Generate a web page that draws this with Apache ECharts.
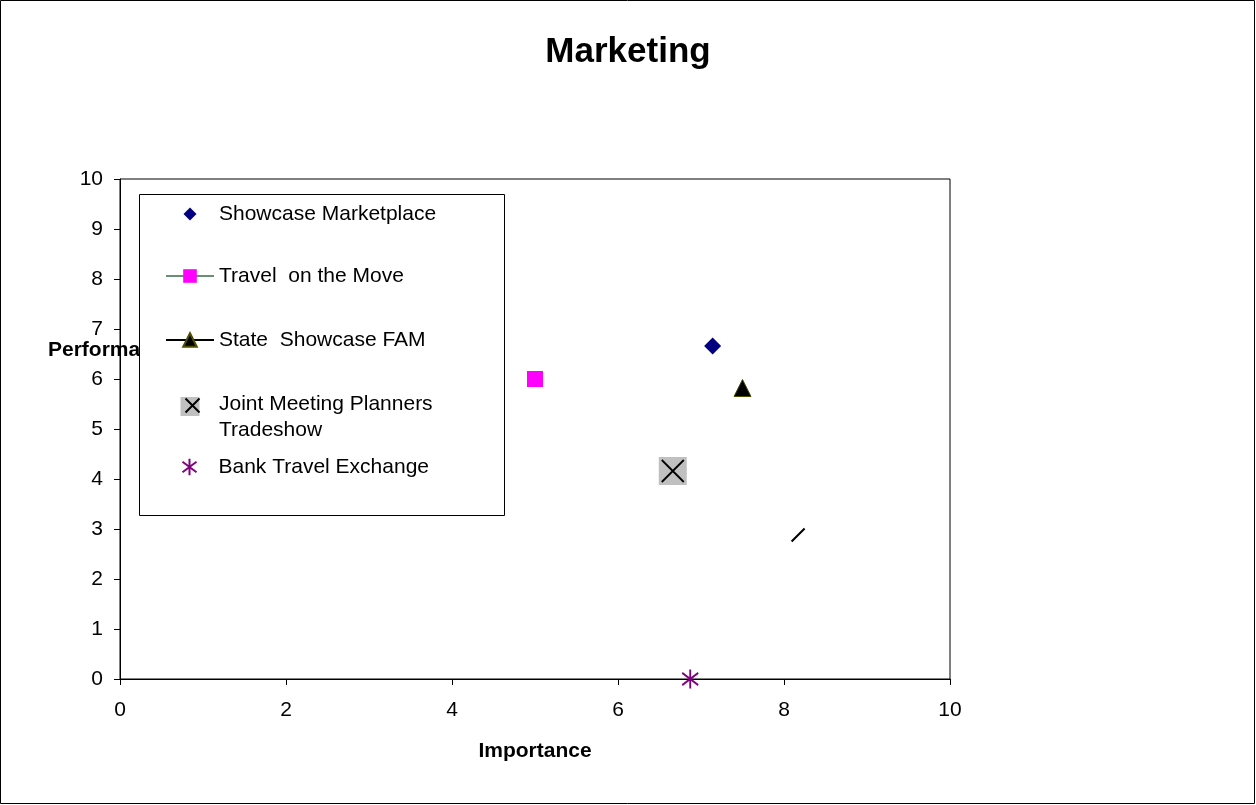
<!DOCTYPE html>
<html>
<head>
<meta charset="utf-8">
<script src="https://cdn.jsdelivr.net/npm/echarts@6/dist/echarts.min.js"></script>
<style>
html,body{margin:0;padding:0;background:#fff;}
#chart{width:1256px;height:805px;}
</style>
</head>
<body>
<div id="chart"></div>
<script>
// ---- data ----
var titleText = 'Marketing';
var xAxisName = 'Importance';
var yAxisName = 'Performance';
var seriesNames = ['Showcase Marketplace', 'Travel  on the Move', 'State  Showcase FAM', 'Joint Meeting Planners\nTradeshow', 'Bank Travel Exchange'];
var showcaseMarketplace = [[7.14, 6.66]];
var travelOnTheMove = [[5.0, 6.0]];
var stateShowcaseFAM = [[7.5, 5.82]];
var jointMeetingPlanners = [[6.66, 4.16]];
var bankTravelExchange = [[6.87, 0]];
var unlabeledPoint = [[8.17, 2.88]];
var xTicks = [0, 2, 4, 6, 8, 10];
var yTicks = [0, 1, 2, 3, 4, 5, 6, 7, 8, 9, 10];

var FONT = '"Liberation Sans", Arial, sans-serif';
var FS = 21;
var starPath = 'path://M5,0L5,10M0.7,1.8L9.3,8.2M9.3,1.8L0.7,8.2';
var xPath = 'path://M0,0L10,10M10,0L0,10';
var slashPath = 'path://M0,10L10,0';

var chart = echarts.init(document.getElementById('chart'), null, {renderer: 'canvas'});

// legend helper: icon centred at x=190, text starting at x=219
function legendBox(name, top, iw, ih, dx, extra) {
  var left = 190 - iw / 2 + dx;
  var padLeft = 219 - (190 - iw / 2 + iw + 5);
  var l = {
    data: [name],
    left: left, top: top, padding: 0,
    itemWidth: iw, itemHeight: ih,
    selectedMode: false,
    z: 10,
    textStyle: {color: '#000', fontSize: FS, fontFamily: FONT, lineHeight: 24, padding: [0, 0, 0, padLeft]}
  };
  if (extra) { Object.assign(l, extra); }
  return l;
}

var option = {
  backgroundColor: '#fff',
  animation: false,
  title: {
    text: titleText, left: 'center', top: 30,
    textStyle: {fontSize: 35, fontWeight: 'bold', fontFamily: FONT, color: '#000'}
  },
  grid: {left: 120, right: 306, top: 179, bottom: 126, show: true, borderColor: '#000', borderWidth: 1, backgroundColor: 'transparent'},
  xAxis: {
    type: 'value', min: xTicks[0], max: xTicks[xTicks.length - 1], interval: 2,
    name: xAxisName, nameLocation: 'middle', nameGap: 62,
    nameTextStyle: {fontSize: FS, fontWeight: 'bold', fontFamily: FONT, color: '#000'},
    axisLine: {lineStyle: {color: '#000', width: 1}},
    axisTick: {show: true, inside: false, length: 6, lineStyle: {color: '#000'}},
    axisLabel: {fontSize: FS, fontFamily: FONT, color: '#000', margin: 21},
    splitLine: {show: false}
  },
  yAxis: {
    type: 'value', min: yTicks[0], max: yTicks[yTicks.length - 1], interval: 1,
    axisLine: {show: true, lineStyle: {color: '#000', width: 1}},
    axisTick: {show: true, inside: false, length: 6, lineStyle: {color: '#000'}},
    axisLabel: {fontSize: FS, fontFamily: FONT, color: '#000', margin: 17},
    splitLine: {show: false}
  },
  legend: [
    legendBox(seriesNames[0], 202, 13, 13, 0),
    legendBox(seriesNames[1], 264, 48, 17, -1),
    legendBox(seriesNames[2], 328, 48, 17, -1),
    legendBox(seriesNames[3], 394, 19, 19, 0, {
      formatter: function () { return '{a|Joint Meeting Planners}\n{b|Tradeshow}'; },
      textStyle: {color: '#000', fontSize: FS, fontFamily: FONT, padding: [0, 0, 0, 219 - (190 - 9.5 + 19 + 5)],
        rich: {a: {fontSize: FS, fontFamily: FONT, color: '#000', lineHeight: 48},
               b: {fontSize: FS, fontFamily: FONT, color: '#000', lineHeight: 4}}}
    }),
    {
      data: ['jointMark'], left: 183, top: 396, padding: 0,
      itemWidth: 14, itemHeight: 14, selectedMode: false, z: 11,
      formatter: function () { return ' '; },
      textStyle: {fontSize: 1, lineHeight: 1, color: 'transparent'}
    },
    legendBox(seriesNames[4], 455, 14, 17, -3)
  ],
  graphic: [
    {type: 'rect', x: 0, y: 0, z: 0, silent: true,
     shape: {x: 0.5, y: 0.5, width: 1254, height: 803},
     style: {fill: 'none', stroke: '#000', lineWidth: 1}},
    {type: 'text', left: 48, top: 340, z: 1,
     style: {text: yAxisName, font: 'bold ' + FS + 'px ' + FONT, fill: '#000'}},
    {type: 'rect', x: 0, y: 0, z: 2,
     shape: {x: 139.5, y: 194.5, width: 365, height: 321},
     style: {fill: '#fff', stroke: '#000', lineWidth: 1}}
  ],
  series: [
    {name: seriesNames[0], type: 'scatter', data: showcaseMarketplace,
     symbol: 'diamond', symbolSize: 17, itemStyle: {color: '#000080', opacity: 1}},
    {name: seriesNames[1], type: 'line', data: travelOnTheMove,
     symbol: 'rect', symbolSize: 16, showSymbol: true,
     itemStyle: {color: '#ff00ff'}, lineStyle: {color: '#6b8f74', width: 1.5}},
    {name: seriesNames[2], type: 'line', data: stateShowcaseFAM,
     symbol: 'triangle', symbolSize: 17, showSymbol: true,
     itemStyle: {color: '#000', borderColor: '#4d4d00', borderWidth: 1}, lineStyle: {color: '#000', width: 1.5}},
    {name: seriesNames[3], type: 'scatter', data: jointMeetingPlanners,
     symbol: 'rect', symbolSize: 28, itemStyle: {color: '#c0c0c0', opacity: 1}},
    {name: 'jointMark', type: 'scatter', data: jointMeetingPlanners,
     symbol: xPath, symbolSize: 22, z: 3,
     itemStyle: {color: 'none', borderColor: '#000', borderWidth: 1.8, opacity: 1}},
    {name: seriesNames[4], type: 'scatter', data: bankTravelExchange,
     symbol: starPath, symbolSize: [16, 19],
     itemStyle: {color: 'none', borderColor: '#800080', borderWidth: 2, opacity: 1}},
    {name: 'unlabeled', type: 'scatter', data: unlabeledPoint,
     symbol: slashPath, symbolSize: 13,
     itemStyle: {color: 'none', borderColor: '#000', borderWidth: 2, opacity: 1}}
  ]
};
chart.setOption(option);
</script>
</body>
</html>
